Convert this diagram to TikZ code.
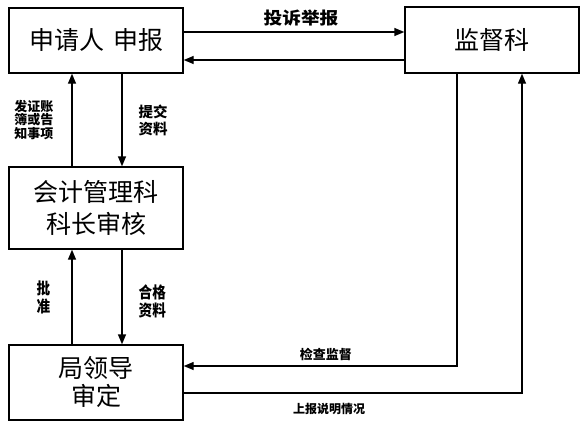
\documentclass[tikz,border=0pt]{standalone}
\usepackage{fontspec}
\newfontfamily\cjk{Noto Sans CJK SC}
\newfontfamily\cjkwide[FakeStretch=1.1]{Noto Sans CJK SC}
\newfontfamily\cjknarrow[FakeStretch=0.85]{Noto Sans CJK SC}
\usetikzlibrary{arrows.meta, positioning, calc}

\begin{document}
\begin{tikzpicture}[
  x=1pt, y=-1pt,
  >=Triangle,
  line width=1.4pt,
]

\tikzset{
  dept/.style={rectangle, draw=black, line width=1.4pt, inner sep=0pt,
    minimum width=174pt, align=center,
    font=\cjk\fontsize{25}{28}\selectfont},
  flow/.style={-{Triangle[length=10pt, width=8pt]}, black},
  tag/.style={font=\cjk\bfseries\fontsize{13}{13.5}\selectfont,
    align=center, inner sep=1pt},
  tagtall/.style={font=\cjknarrow\bfseries\fontsize{16}{18}\selectfont,
    align=center, inner sep=1pt},
}

\useasboundingbox (0,0) rectangle (583,429);

% ---------------------------------------------------------------
% boxes
% ---------------------------------------------------------------
\node[dept, minimum height=65pt] (applicant)  at (96,40.5)  {申请人\hspace{9pt}申报};
\node[dept, minimum height=66pt] (supervise)  at (492,40)   {监督科};
\node[dept, minimum height=82pt] (accounting) at (96,208)   {会计管理科\\[4pt]科长审核};
\node[dept, minimum height=75pt] (leader)     at (96,382.5) {局领导\\审定};

% lanes for the connectors
\coordinate (laneup)    at (72,0);
\coordinate (lanedown)  at (122,0);
\coordinate (lanecheck) at (457,0);
\coordinate (lanerep)   at (522,0);
\coordinate (rowhi)     at (0,32);
\coordinate (rowlo)     at (0,60);
\coordinate (rowcheck)  at (0,366);
\coordinate (rowrep)    at (0,393);

% ---------------------------------------------------------------
% top row
% ---------------------------------------------------------------
\draw[flow] (applicant.east |- rowhi) -- node[above=2pt, xshift=7pt,
  font=\cjkwide\bfseries\fontsize{17}{18}\selectfont]{投诉举报} (supervise.west |- rowhi);
\draw[flow] (supervise.west |- rowlo) -- (applicant.east |- rowlo);

% ---------------------------------------------------------------
% left column
% ---------------------------------------------------------------
\draw[flow] (accounting.north -| laneup) -- node[tag, left=17pt]{发证账\\簿或告\\知事项} (applicant.south -| laneup);
\draw[flow] (applicant.south -| lanedown) -- node[tag, right=15pt,
  font=\cjk\bfseries\fontsize{14.5}{17}\selectfont]{提交\\资料} (accounting.north -| lanedown);
\draw[flow] (leader.north -| laneup) -- node[tagtall, left=20pt]{批\\准} (accounting.south -| laneup);
\draw[flow] (accounting.south -| lanedown) -- node[tagtall, right=15pt, pos=0.55]{合格\\资料} (leader.north -| lanedown);

% ---------------------------------------------------------------
% supervision loop
% ---------------------------------------------------------------
\draw[flow] (supervise.south -| lanecheck) |- node[tag, pos=0.74, above=4pt]{检查监督} (leader.east |- rowcheck);
\draw[flow] (leader.east |- rowrep) -| node[tag, pos=0.215, below=9pt,
  font=\cjk\bfseries\fontsize{12}{13}\selectfont]{上报说明情况} (supervise.south -| lanerep);

\end{tikzpicture}
\end{document}
